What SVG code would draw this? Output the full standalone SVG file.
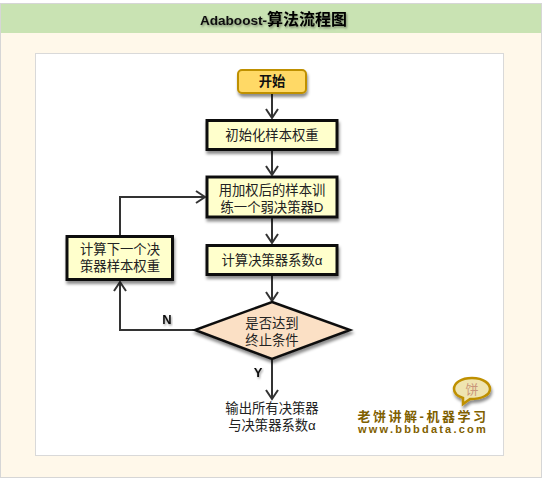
<svg xmlns="http://www.w3.org/2000/svg" width="543" height="479" viewBox="0 0 543 479">
<defs>
<filter id="sh" x="-20%" y="-20%" width="140%" height="150%"><feDropShadow dx="1" dy="3" stdDeviation="1.5" flood-color="#000" flood-opacity="0.45"/></filter>
<filter id="ts" x="-10%" y="-30%" width="120%" height="170%"><feDropShadow dx="1" dy="1.5" stdDeviation="1.2" flood-color="#000" flood-opacity="0.4"/></filter>
<marker id="arr" markerUnits="userSpaceOnUse" markerWidth="14" markerHeight="16" refX="10" refY="7" orient="auto"><path d="M1,1 L10,7 L1,13" fill="none" stroke="#333" stroke-width="2"/></marker>
</defs>
<style>
text{font-family:"Liberation Sans","Noto Sans CJK SC",sans-serif;text-anchor:middle;fill:#222;font-size:13.33px}
.box{fill:#ffffcc;stroke:#111;stroke-width:3;filter:url(#sh)}
.c{fill:none;stroke:#333;stroke-width:2;marker-end:url(#arr)}
.l{font-weight:bold;font-size:13px;fill:#111;filter:url(#ts)}
.g{fill:#7f6000;font-weight:bold}
</style>
<rect x="0.5" y="3.5" width="541" height="474" fill="#fff8ea" stroke="#d6d6d6"/>
<rect x="1" y="4" width="540" height="29" fill="#c9e3b3"/>
<text x="273.500" y="25" style="fill:#111;filter:url(#ts)"><tspan style="font-size:13.6px;font-weight:bold;fill:#111">Adaboost-</tspan><tspan style="font-size:16px;font-weight:bold;fill:#000">算法流程图</tspan></text>
<rect x="35.500" y="53.500" width="468" height="402" fill="#fff" stroke="#d9d9d9"/>
<g id="connectors">
<path class="c" d="M272 94V118"/>
<path class="c" d="M272 151V175"/>
<path class="c" d="M272 218V243"/>
<path class="c" d="M272 276V301"/>
<path class="c" d="M195 330H120V282"/>
<path class="c" d="M120 235V197H205"/>
<path class="c" d="M272 359V399"/>
</g>
<g id="start"><rect x="238" y="70" width="68" height="23" rx="4" fill="#ffd966" stroke="#bf9000" stroke-width="2" filter="url(#sh)"/><text x="272" y="86" style="font-weight:bold;fill:#111">开始</text></g>
<g id="init"><rect class="box" x="207" y="120.500" width="130" height="29"/><text x="272" y="140">初始化样本权重</text></g>
<g id="train"><rect class="box" x="207" y="177" width="130" height="40"/><text x="272" y="195">用加权后的样本训</text><text x="272" y="212">练一个弱决策器D</text></g>
<g id="coef"><rect class="box" x="207" y="245.500" width="130" height="29"/><text x="272" y="265">计算决策器系数α</text></g>
<g id="next"><rect class="box" x="67" y="236.500" width="105.500" height="43"/><text x="120" y="254">计算下一个决</text><text x="120" y="271">策器样本权重</text></g>
<g id="cond"><path d="M272 302L350 330L272 359L195 330Z" fill="#fbe0c5" stroke="#111" stroke-width="2.500" filter="url(#sh)"/><text x="272" y="328">是否达到</text><text x="272" y="345">终止条件</text></g>
<g id="output"><text x="272" y="413">输出所有决策器</text><text x="272" y="430">与决策器系数α</text></g>
<text class="l" x="167" y="324">N</text>
<text class="l" x="258" y="377">Y</text>
<g id="logo">
<path d="M472 378C484 378 490 384 490 389C490 395 482 399 470 399L463 404L463 398C457 396 454 393 454 389C454 383 461 378 472 378Z" fill="#efe4b0" stroke="#bf9000" stroke-width="2.500" filter="url(#sh)"/>
<text x="472" y="394" style="font-size:13px;fill:#c9967a">饼</text>
<text class="g" x="423" y="421" style="font-size:13px;letter-spacing:2.500px">老饼讲解-机器学习</text>
<text class="g" x="423" y="433" style="font-size:11px;letter-spacing:2.200px">www.bbbdata.com</text>
</g>
</svg>
